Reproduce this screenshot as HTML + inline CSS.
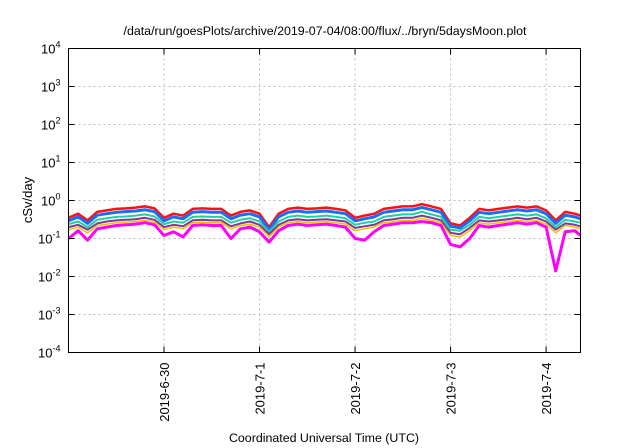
<!DOCTYPE html>
<html><head><meta charset="utf-8"><style>
body{margin:0;background:#fff;}
svg{display:block;font-family:"Liberation Sans",sans-serif;}
</style></head><body>
<svg id="chart" width="640" height="448">
<text x="325" y="35" text-anchor="middle" font-size="12.4" fill="#000">/data/run/goesPlots/archive/2019-07-04/08:00/flux/../bryn/5daysMoon.plot</text>
<text x="324" y="442" text-anchor="middle" font-size="12.4">Coordinated Universal Time (UTC)</text>
<text transform="translate(32,200) rotate(-90)" text-anchor="middle" font-size="13">cSv/day</text>
<g id="grid"></g><g id="series"></g><g id="axes"></g>
</svg>
<script>
const times=[0,0.1,0.2,0.3,0.4,0.5,0.6,0.7,0.8,0.9,1,1.1,1.2,1.3,1.4,1.5,1.6,1.7,1.8,1.9,2,2.1,2.2,2.3,2.4,2.5,2.6,2.7,2.8,2.9,3,3.1,3.2,3.3,3.4,3.5,3.6,3.7,3.8,3.9,4,4.1,4.2,4.3,4.4,4.5,4.6,4.7,4.8,4.9,5,5.1,5.2,5.3,5.36];
const red=[.35,.45,.3,.5,.55,.6,.62,.65,.7,.62,.35,.45,.4,.6,.62,.6,.6,.4,.5,.55,.45,.2,.45,.6,.65,.6,.62,.65,.6,.55,.35,.4,.45,.6,.65,.7,.7,.8,.7,.6,.25,.22,.35,.6,.55,.6,.65,.7,.65,.7,.55,.3,.5,.45,.4];
const blue=[.29,.37,.25,.41,.45,.49,.51,.53,.57,.51,.29,.37,.33,.49,.51,.49,.49,.33,.41,.45,.37,.17,.37,.49,.53,.49,.51,.53,.49,.45,.29,.33,.37,.49,.53,.57,.57,.66,.57,.49,.21,.19,.29,.49,.45,.49,.53,.57,.53,.57,.45,.25,.41,.37,.33];
const teal=[.24,.28,.2,.31,.34,.37,.38,.4,.43,.38,.24,.28,.26,.37,.38,.37,.37,.26,.31,.34,.28,.15,.28,.37,.4,.37,.38,.4,.37,.34,.23,.26,.28,.37,.4,.43,.43,.5,.43,.37,.17,.16,.23,.37,.34,.37,.4,.43,.4,.43,.34,.2,.31,.28,.26];
const purple=[.2,.23,.17,.25,.28,.3,.31,.32,.35,.31,.2,.23,.21,.3,.31,.3,.3,.21,.25,.28,.23,.13,.23,.3,.32,.3,.31,.32,.3,.28,.19,.21,.23,.3,.32,.35,.35,.4,.35,.3,.14,.13,.19,.3,.28,.3,.32,.35,.32,.35,.28,.17,.25,.23,.21];
const yellow=[.17,.2,.14,.22,.24,.26,.27,.28,.3,.27,.17,.2,.18,.26,.27,.26,.26,.18,.22,.24,.2,.11,.2,.26,.28,.26,.27,.28,.26,.24,.16,.18,.2,.26,.28,.3,.3,.34,.3,.26,.12,.11,.16,.26,.24,.26,.28,.3,.28,.3,.24,.14,.22,.2,.18];
const magenta=[.1,.16,.09,.18,.2,.22,.23,.24,.26,.23,.12,.15,.11,.22,.23,.22,.22,.1,.18,.2,.15,.08,.16,.22,.24,.22,.23,.24,.22,.2,.1,.09,.15,.22,.24,.26,.26,.28,.26,.22,.07,.06,.1,.22,.2,.22,.24,.26,.24,.26,.2,.014,.15,.16,.12];
const xTickDays=[1,2,3,4,5];
const xTickLabels=["2019-6-30","2019-7-1","2019-7-2","2019-7-3","2019-7-4"];
const yTickExps=[-4,-3,-2,-1,0,1,2,3,4];

const NS="http://www.w3.org/2000/svg";
const L=68.5,R=580.5,T=48.5,B=352.5,X0=0,X1=5.36,YMIN=-4,YMAX=4;
function xs(t){return L+(t-X0)/(X1-X0)*(R-L);}
function ys(v){return B-(Math.log10(v)-YMIN)/(YMAX-YMIN)*(B-T);}
function mk(tag,attrs,parent){const e=document.createElementNS(NS,tag);for(const k in attrs)e.setAttribute(k,attrs[k]);parent.appendChild(e);return e;}
const grid=document.getElementById('grid'),axes=document.getElementById('axes'),ser=document.getElementById('series');
yTickExps.forEach(ex=>{
  const y=ys(Math.pow(10,ex));
  if(ex>YMIN&&ex<YMAX){const g=mk('line',{x1:L,x2:R,y1:y,y2:y,stroke:'#bbb','stroke-dasharray':'2,3','stroke-width':1},grid);
  
  }
  const t1=mk('line',{x1:L,x2:L+6,y1:y,y2:y,stroke:'#000'},axes);
  
  
  const t2=mk('line',{x1:R,x2:R-6,y1:y,y2:y,stroke:'#000'},axes);
  
  
  const tx=mk('text',{x:L-8,y:y+5,'text-anchor':'end','font-size':13},axes);
  
  
  tx.textContent='10';
  const sp=mk('tspan',{dy:-6,'font-size':9},tx);sp.textContent=String(ex);
});
xTickDays.forEach((d,i)=>{
  const x=xs(d);
  const g=mk('line',{x1:x,x2:x,y1:T,y2:B,stroke:'#bbb','stroke-dasharray':'2,3'},grid);
  
  
  const t1=mk('line',{x1:x,x2:x,y1:B,y2:B-6,stroke:'#000'},axes);
  
  
  const t2=mk('line',{x1:x,x2:x,y1:T,y2:T+6,stroke:'#000'},axes);
  
  
  const tx=mk('text',{transform:`translate(${x+5},${B+10}) rotate(-90)`,'text-anchor':'end','font-size':13},axes);
  
  
  tx.textContent=xTickLabels[i];
});
const frame=mk('rect',{x:L,y:T,width:R-L,height:B-T,fill:'none',stroke:'#000','stroke-width':1},axes);


const list=[[red,'#ff1010',2.5,'series-red'],[blue,'#1a6cff',3,'series-blue'],[teal,'#20d0a0',2,'series-teal'],[purple,'#7a3a9a',2,'series-purple'],[yellow,'#f0c000',1.5,'series-yellow'],[magenta,'#ff00ff',3,'series-magenta']];
list.forEach(s=>{
  const d=s[0].map((v,i)=>(i?'L':'M')+xs(times[i]).toFixed(1)+','+ys(v).toFixed(1)).join('');
  const p=mk('path',{d:d,fill:'none',stroke:s[1],'stroke-width':s[2],'stroke-linejoin':'round'},ser);
  
  
});
</script>
</body></html>
